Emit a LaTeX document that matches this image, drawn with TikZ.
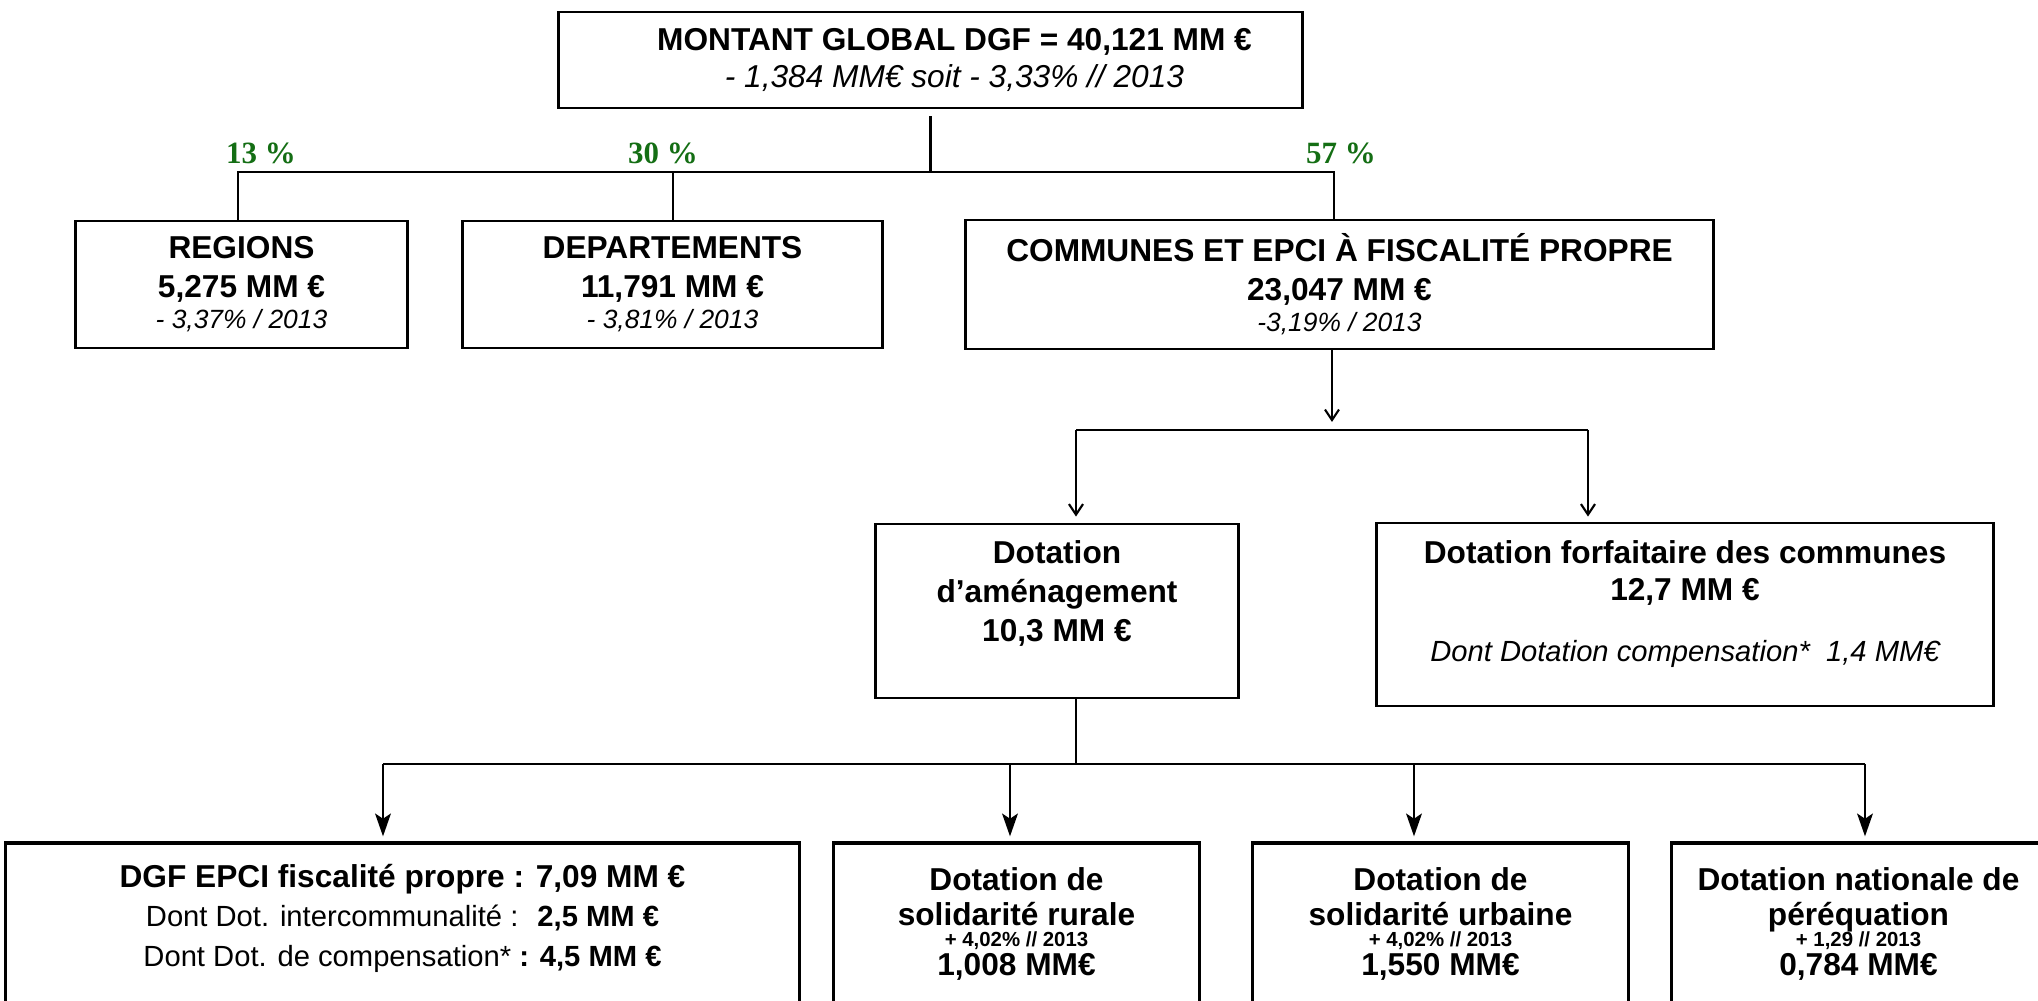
\documentclass[tikz,border=0pt]{standalone}
\usepackage{fontspec}
\setmainfont{Liberation Sans}
\newfontfamily\pctfont{Liberation Serif}
\usetikzlibrary{arrows.meta}
\definecolor{pctgreen}{RGB}{20,110,20}

\begin{document}
\begin{tikzpicture}[x=0.01cm,y=-0.01cm,line width=0.6pt,
    box/.style={draw,line width=0.8pt,align=center,inner sep=0pt,
      font=\bfseries\fontsize{9}{11.1}\selectfont},
    lowbox/.style={box,line width=0.9pt,minimum height=1.62cm,
      font=\bfseries\fontsize{9}{10.2}\selectfont},
    pct/.style={anchor=base,text=pctgreen,font=\pctfont\bfseries\fontsize{8.8}{10}\selectfont},
    midarrow/.style={-{Straight Barb[length=3pt,width=4pt]}},
    lowarrow/.style={-{Stealth[length=6.5pt,width=4.5pt,inset=1.5pt]}}]

    \useasboundingbox (0,0) rectangle (2038,1001);
    \clip (0,0) rectangle (2038,1001);

    \node[box,minimum width=7.43cm,minimum height=0.96cm,
        font=\bfseries\fontsize{9}{10.4}\selectfont] (dgf) at (930.5,60)
        {\hspace*{0.48cm}MONTANT GLOBAL DGF = 40,121 MM €\\
         \hspace*{0.48cm}{\mdseries\itshape - 1,384 MM€ soit - 3,33\% // 2013}};

    \node[box,minimum width=3.31cm,minimum height=1.27cm] (reg) at (241.5,284.5)
        {REGIONS\\5,275 MM €\\[-2.3pt]{\mdseries\itshape\fontsize{7.5}{9}\selectfont - 3,37\% / 2013}};
    \node[box,minimum width=4.19cm,minimum height=1.27cm] (dep) at (672.5,284.5)
        {DEPARTEMENTS\\11,791 MM €\\[-2.3pt]{\mdseries\itshape\fontsize{7.5}{9}\selectfont - 3,81\% / 2013}};
    \node[box,minimum width=7.47cm,minimum height=1.29cm] (com) at (1339.5,284.5)
        {COMMUNES ET EPCI À FISCALITÉ PROPRE\\23,047 MM €\\[-2.3pt]{\mdseries\itshape\fontsize{7.5}{9}\selectfont -3,19\% / 2013}};

    \node[pct] (p13) at (261,164) {13 \%};
    \node[pct] (p30) at (663,164) {30 \%};
    \node[pct] (p57) at (1341,164) {57 \%};

    \node[box,minimum width=3.62cm,minimum height=1.74cm] (amen) at (1057,611)
        {Dotation\\d’aménagement\\10,3 MM €\\\mbox{}};
    \node[box,minimum width=6.16cm,minimum height=1.83cm,
        font=\bfseries\fontsize{9}{10.5}\selectfont] (forf) at (1685,614.5)
        {Dotation forfaitaire des communes\\12,7 MM €\\[6.9pt]{\mdseries\itshape\fontsize{8.3}{10}\selectfont Dont Dotation compensation*~ 1,4 MM€}\\[-3pt]\mbox{}};

    \node[lowbox,minimum width=7.93cm,font=\bfseries\fontsize{9}{11.2}\selectfont] (epci) at (402.5,924)
        {DGF EPCI fiscalité propre : 7,09 MM €\\
         {\mdseries\fontsize{8.3}{10}\selectfont Dont Dot. intercommunalité :~ \bfseries 2,5 MM €}\\
         {\mdseries\fontsize{8.3}{10}\selectfont Dont Dot. de compensation*\bfseries~: 4,5 MM €}\\[-6.3pt]\mbox{}};
    \node[lowbox,minimum width=3.65cm] (dsr) at (1016.5,924)
        {Dotation de\\solidarité rurale\\[-4.2pt]{\fontsize{5.8}{7}\selectfont + 4,02\% // 2013}\\[-1.95pt]1,008 MM€};
    \node[lowbox,minimum width=3.75cm] (dsu) at (1440.5,924)
        {Dotation de\\solidarité urbaine\\[-4.2pt]{\fontsize{5.8}{7}\selectfont + 4,02\% // 2013}\\[-1.95pt]1,550 MM€};
    \node[lowbox,minimum width=3.73cm] (dnp) at (1858.5,924)
        {Dotation nationale de\\péréquation\\[-4.2pt]{\fontsize{5.8}{7}\selectfont + 1,29 // 2013}\\[-1.95pt]0,784 MM€};

    \coordinate (t1) at (238,172);
    \coordinate (t2) at (673,172);
    \coordinate (t3) at (1334,172);
    \draw[shorten <=0.07cm] (dgf.south) -- (dgf.south |- t2);
    \draw (t1 |- reg.north) -- (t1) -- (t3) -- (t3 |- com.north);
    \draw (t2) -- (t2 |- dep.north);

    \coordinate (m0) at (1332,430);
    \coordinate (m1) at (1076,430);
    \coordinate (m2) at (1588,430);
    \draw[midarrow,shorten >=0.08cm] (m0 |- com.south) -- (m0);
    \draw (m1) -- (m2);
    \draw[midarrow,shorten >=0.06cm] (m1) -- (m1 |- amen.north);
    \draw[midarrow,shorten >=0.05cm] (m2) -- (m2 |- forf.north);

    \coordinate (b1) at (383,764);
    \coordinate (b2) at (1010,764);
    \coordinate (b3) at (1414,764);
    \coordinate (b4) at (1865,764);
    \draw (m1 |- amen.south) -- (m1 |- b1);
    \draw (b1) -- (b4);
    \foreach \b/\n in {b1/epci,b2/dsr,b3/dsu,b4/dnp}
        \draw[lowarrow,shorten >=0.05cm] (\b) -- (\b |- \n.north);

\end{tikzpicture}
\end{document}
